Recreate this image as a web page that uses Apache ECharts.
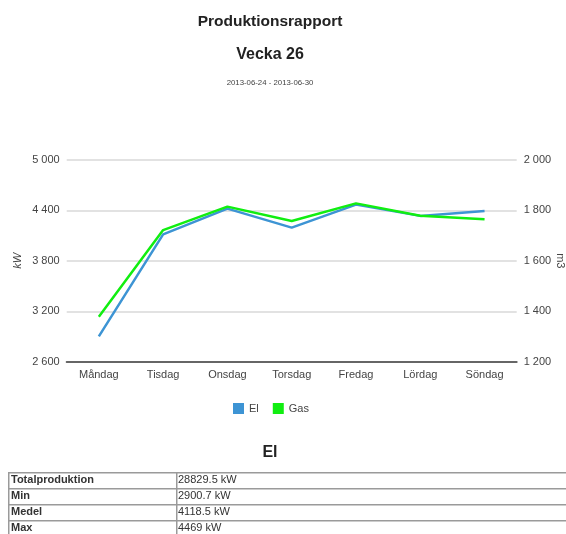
<!DOCTYPE html>
<html>
<head>
<meta charset="utf-8">
<script src="https://cdn.jsdelivr.net/npm/echarts@6/dist/echarts.min.js"></script>
<style>
html,body{margin:0;padding:0;background:#fff;overflow:hidden;width:566px;height:534px;}
#c{width:566px;height:534px;}
</style>
</head>
<body>
<div id="c"></div>
<script>
var days = ['Måndag','Tisdag','Onsdag','Torsdag','Fredag','Lördag','Söndag'];
var elValues = [2900.7, 4115, 4422, 4195, 4469, 4335, 4392.8];
var gasValues = [1378, 1722, 1815, 1758, 1828, 1779, 1765];
var tableLabels = ['Totalproduktion','Min','Medel','Max'];
var tableValues = ['28829.5 kW','2900.7 kW','4118.5 kW','4469 kW'];
var titleTexts = ['Produktionsrapport','Vecka 26','2013-06-24 - 2013-06-30','El'];

var FONT = '"Liberation Sans", Arial, sans-serif';
function fmt(v){ return String(Math.round(v)).replace(/\B(?=(\d{3})+(?!\d))/g,' '); }

var graphics = [];
var CX = 270;
var titleY = [22, 55, 83, 453];
var titleFont = ['bold 15.5px ', 'bold 16px ', '7.8px ', 'bold 16px '];
var titleColor = ['#222', '#222', '#444', '#222'];
titleTexts.forEach(function(t, i){
  graphics.push({type:'text', x: CX, y: titleY[i], style:{text: t, font: titleFont[i] + FONT, fill: titleColor[i], align:'center', verticalAlign:'middle'}});
});
var rowH = 16, tx = 8, ty = 472, c1 = 168, c2 = 420;
tableLabels.forEach(function(lab, i){
  graphics.push({type:'rect', left: tx, top: ty + i*rowH, shape:{width:c1, height:rowH}, style:{fill:'#fff', stroke:'#9a9a9a', lineWidth:1.5}});
  graphics.push({type:'rect', left: tx + c1, top: ty + i*rowH, shape:{width:c2, height:rowH}, style:{fill:'#fff', stroke:'#9a9a9a', lineWidth:1.5}});
  graphics.push({type:'text', left: tx + 3, top: ty + i*rowH + 2, style:{text: lab, font:'bold 11px ' + FONT, fill:'#333'}});
  graphics.push({type:'text', left: tx + c1 + 2, top: ty + i*rowH + 2, style:{text: tableValues[i], font:'11px ' + FONT, fill:'#333'}});
});

var chart = echarts.init(document.getElementById('c'), null, {width:566, height:534});
chart.setOption({
  animation: false,
  textStyle: {fontFamily: FONT},
  legend: {
    data: ['El','Gas'], left: 228, top: 398, itemWidth: 11, itemHeight: 11, itemGap: 14,
    icon: 'rect', textStyle:{fontSize:11, color:'#444', fontFamily: FONT}
  },
  grid: {left: 66.7, right: 49.3, top: 160, bottom: 172.3, containLabel: false, outerBoundsMode: 'none'},
  xAxis: {
    type: 'category', data: days, boundaryGap: true,
    axisLine: {show:true, lineStyle:{color:'#666', width:2}},
    axisTick: {show:false},
    axisLabel: {fontSize:11, color:'#444', margin:8, fontFamily: FONT}
  },
  yAxis: [
    {type:'value', min:2600, max:5000, interval:600, name:'kW', nameLocation:'middle', nameGap:43, nameRotate:90,
     nameMoveOverlap:false,
     nameTextStyle:{fontSize:11, fontStyle:'italic', color:'#444', fontFamily: FONT},
     axisLine:{show:false}, axisTick:{show:false},
     axisLabel:{fontSize:11, color:'#444', margin:7, formatter: fmt, fontFamily: FONT},
     splitLine:{lineStyle:{color:'#d9d9d9', width:1.5}}},
    {type:'value', min:1200, max:2000, interval:200, name:'m3', nameLocation:'middle', nameGap:38, nameRotate:-90,
     nameMoveOverlap:false,
     nameTextStyle:{fontSize:11, color:'#444', fontFamily: FONT},
     axisLine:{show:false}, axisTick:{show:false},
     axisLabel:{fontSize:11, color:'#444', margin:7, formatter: fmt, fontFamily: FONT},
     splitLine:{show:false}}
  ],
  series: [
    {name:'El', type:'line', yAxisIndex:0, data: elValues, symbol:'none', color:'#3d94d4', lineStyle:{width:2.5, color:'#3d94d4'}},
    {name:'Gas', type:'line', yAxisIndex:1, data: gasValues, symbol:'none', color:'#11ee11', lineStyle:{width:2.5, color:'#11ee11'}}
  ],
  graphic: graphics
});
</script>
</body>
</html>
